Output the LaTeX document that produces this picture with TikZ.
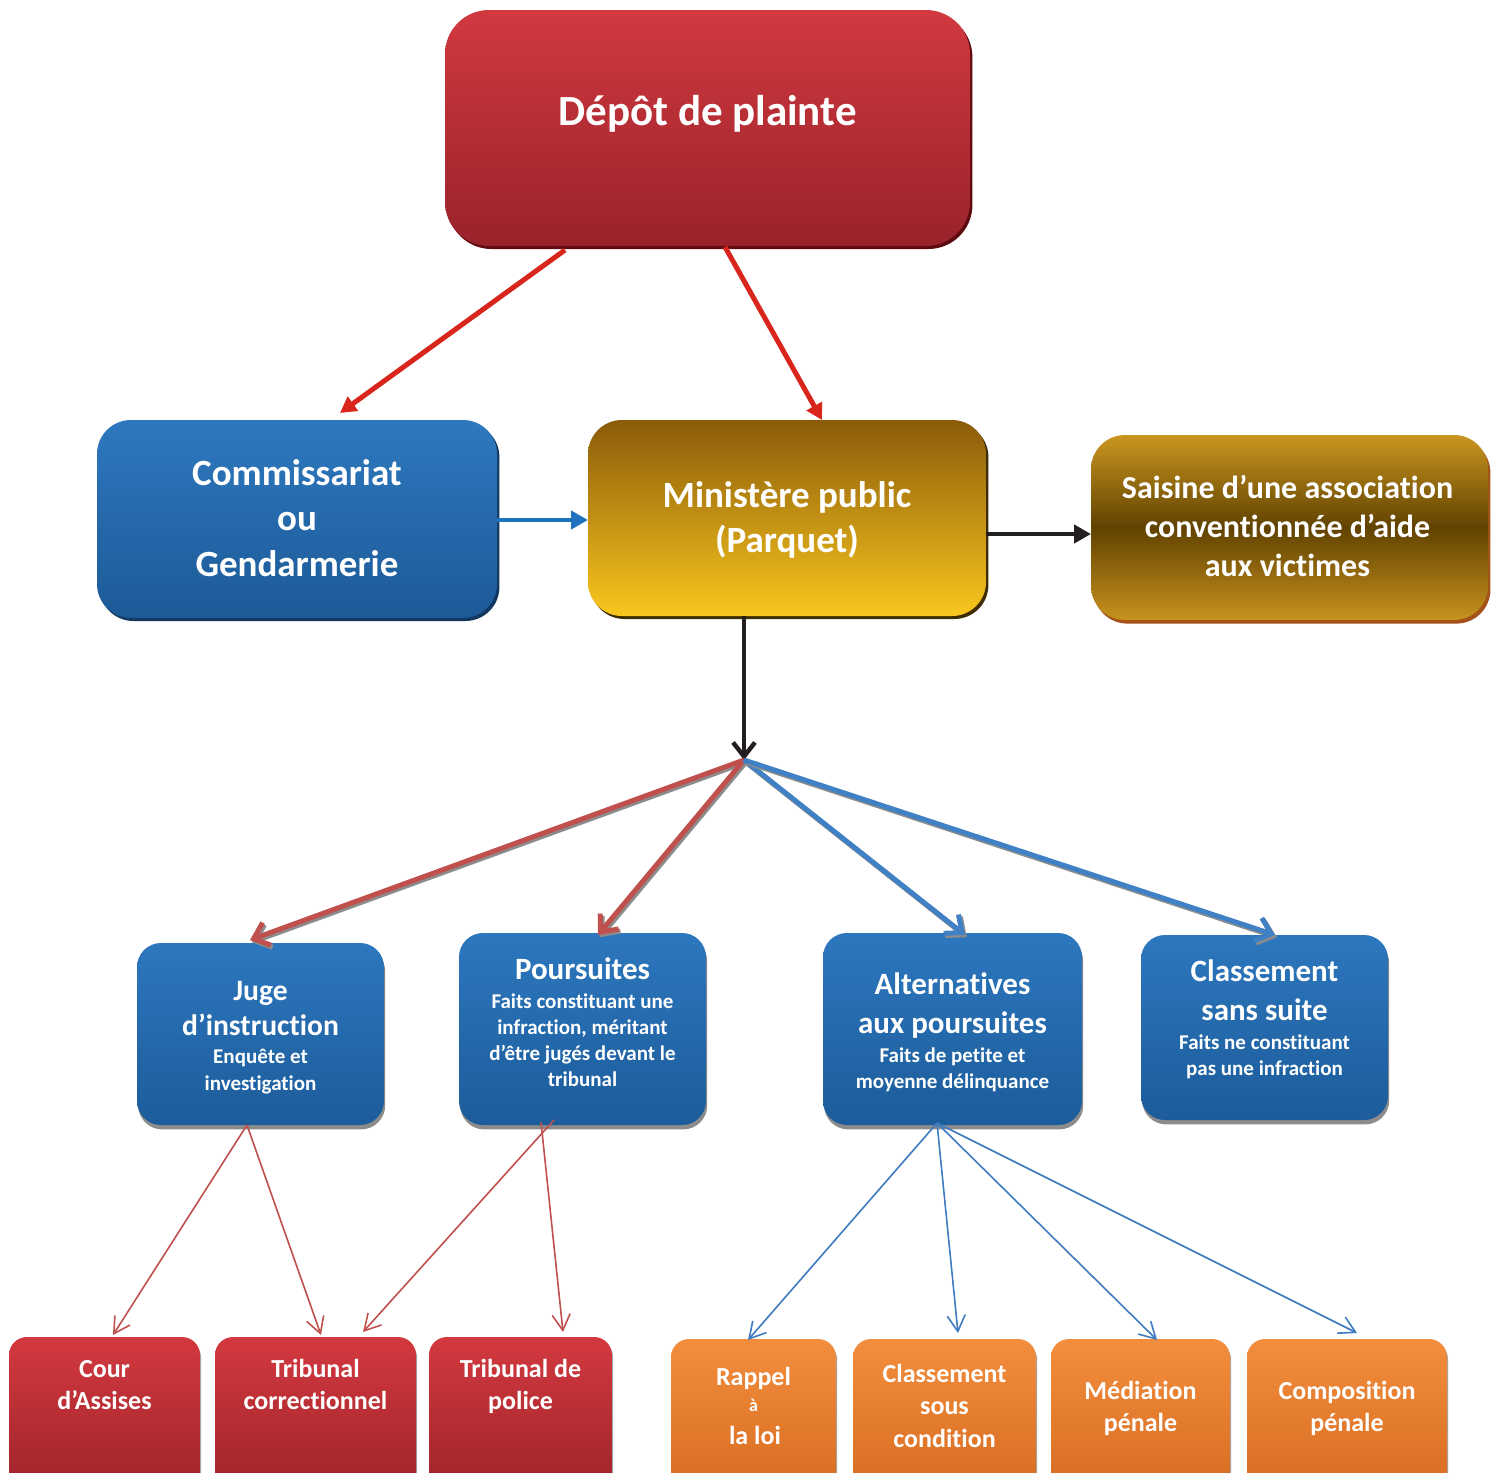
\documentclass[tikz,border=0pt]{standalone}
\usepackage{fontspec}
\setmainfont{Carlito}[Ligatures=NoCommon]
\usetikzlibrary{arrows.meta,shadows,calc}
\definecolor{depotT}{HTML}{D1393F}
\definecolor{depotB}{HTML}{99222A}
\definecolor{depotS}{HTML}{5E0A0E}
\definecolor{commT}{HTML}{2E78BF}
\definecolor{commB}{HTML}{1C5A97}
\definecolor{commS}{HTML}{12385F}
\definecolor{minT}{HTML}{8A5B09}
\definecolor{minB}{HTML}{FAC61E}
\definecolor{minS}{HTML}{3E2C05}
\definecolor{saisT}{HTML}{CA9620}
\definecolor{saisM}{HTML}{614200}
\definecolor{saisB}{HTML}{C8921E}
\definecolor{saisS}{HTML}{A4521A}
\definecolor{midT}{HTML}{2D77BE}
\definecolor{midB}{HTML}{1C5C9A}
\definecolor{rbT}{HTML}{D3393F}
\definecolor{rbB}{HTML}{9E242A}
\definecolor{orT}{HTML}{F38E3E}
\definecolor{orB}{HTML}{D76C20}
\definecolor{arrRed}{HTML}{D9261C}
\definecolor{hubRed}{HTML}{C0504D}
\definecolor{hubBlue}{HTML}{4080C4}
\definecolor{thinBlue}{HTML}{3E7BC1}
\definecolor{blackA}{HTML}{231F20}
\definecolor{commArr}{HTML}{1F72BB}
\begin{document}
\begin{tikzpicture}[x=0.5pt,y=-0.5pt,
  every node/.style={inner sep=0pt, outer sep=0pt},
  sz/.style 2 args={minimum width=#1*0.5pt, minimum height=#2*0.5pt},
  depotbox/.style={rectangle, rounded corners=22pt, top color=depotT, bottom color=depotB,
    drop shadow={shadow xshift=1.2pt, shadow yshift=-1.5pt, fill=depotS, opacity=1}},
  commbox/.style={rectangle, rounded corners=17pt, top color=commT, bottom color=commB,
    drop shadow={shadow xshift=1.2pt, shadow yshift=-1.5pt, fill=commS, opacity=1}},
  minbox/.style={rectangle, rounded corners=17pt, top color=minT, bottom color=minB,
    drop shadow={shadow xshift=1.2pt, shadow yshift=-1.5pt, fill=minS, opacity=1}},
  saisbox/.style={rectangle, rounded corners=17pt, top color=saisT, bottom color=saisB, middle color=saisM,
    drop shadow={shadow xshift=1.2pt, shadow yshift=-1.8pt, fill=saisS, opacity=1}},
  midbox/.style={rectangle, rounded corners=12pt, top color=midT, bottom color=midB,
    drop shadow={shadow xshift=0.6pt, shadow yshift=-2.2pt, fill=black!45, opacity=1}},
  redbox/.style={rectangle, rounded corners=9pt, top color=rbT, bottom color=rbB,
    drop shadow={shadow xshift=0.6pt, shadow yshift=-1.5pt, fill=black!35, opacity=1}},
  orbox/.style={rectangle, rounded corners=9pt, top color=orT, bottom color=orB,
    drop shadow={shadow xshift=0.6pt, shadow yshift=-1.5pt, fill=black!35, opacity=1}},
  txt/.style={text=white, align=center, anchor=base},
  fA/.style={font=\bfseries\fontsize{21.5pt}{26pt}\selectfont},
  fB/.style={font=\bfseries\fontsize{18.5pt}{22.75pt}\selectfont},
  fS/.style={font=\bfseries\fontsize{16pt}{19.5pt}\selectfont},
  fT/.style={font=\bfseries\fontsize{15.5pt}{#1}\selectfont},
  fs/.style={font=\bfseries\fontsize{10.5pt}{#1}\selectfont},
  fb/.style={font=\bfseries\fontsize{13pt}{16pt}\selectfont},
  thickred/.style={draw=arrRed, line width=2.5pt, -{Triangle[length=8pt,width=8.5pt]}},
  flatarr/.style={draw=#1, line width=2.4pt, -{Triangle[length=8.5pt,width=9pt]}},
  hubline/.style={draw=#1, line width=2.5pt, -{Straight Barb[length=7pt,width=12pt,line width=2.5pt]},
    preaction={draw=black!45, line width=2.5pt, transform canvas={xshift=0.9pt,yshift=-1.1pt}}},
  thinline/.style={draw=#1, line width=0.8pt, -{Straight Barb[length=8pt,width=9pt]}},
]
\fill[white] (0,0) rectangle (1498,1472);
\clip (0,0) rectangle (1498,1472);

% boxes
\node[depotbox, sz={525}{236}] (depot) at (707.5,128) {};
\node[commbox, sz={400}{198}] (comm) at (297,519) {};
\node[minbox, sz={398}{196}] (min) at (787,518) {};
\node[saisbox, sz={397}{185}] (sais) at (1289.5,527.5) {};
\node[midbox, sz={247}{182}] (juge) at (260.5,1034) {};
\node[midbox, sz={247}{192}] (pours) at (582.5,1029) {};
\node[midbox, sz={259}{192}] (alt) at (952.5,1029) {};
\node[midbox, sz={247}{185}] (css) at (1264.5,1027.5) {};
\node[redbox, sz={191}{153}] (cour) at (104.5,1413.5) {};
\node[redbox, sz={201}{153}] (trc) at (315.5,1413.5) {};
\node[redbox, sz={183}{153}] (trp) at (520.5,1413.5) {};
\node[orbox, sz={165}{151}] (rap) at (753.5,1414.5) {};
\node[orbox, sz={183}{151}] (csc) at (944.5,1414.5) {};
\node[orbox, sz={179}{151}] (med) at (1140.5,1414.5) {};
\node[orbox, sz={200}{151}] (comp) at (1347,1414.5) {};

% texts (anchor = baseline of the last line)
\node[txt, fA] (t-depot) at (707.5,125) {Dépôt de plainte};
\node[txt, fB] (t-comm) at (297,576) {Commissariat\\ou\\Gendarmerie};
\node[txt, font=\bfseries\fontsize{18.5pt}{22.5pt}\selectfont] (t-min) at (787,552) {Ministère public\\(Parquet)};
\node[txt, fS] (t-sais) at (1287.5,576) {Saisine d’une association\\conventionnée d’aide\\aux victimes};
\node[txt, font=\bfseries\fontsize{14.8pt}{17.5pt}\selectfont] (t-juge) at (260.5,1035) {Juge\\d’instruction};
\node[txt, fs=13.5pt] (s-juge) at (260.5,1090) {Enquête et\\investigation};
\node[txt, fT=19.5pt] (t-pours) at (582.5,979) {Poursuites};
\node[txt, fs=13pt] (s-pours) at (582.5,1086) {Faits constituant une\\infraction, méritant\\d’être jugés devant le\\tribunal};
\node[txt, fT=19.5pt] (t-alt) at (952.5,1033) {Alternatives\\aux poursuites};
\node[txt, fs=13pt] (s-alt) at (952.5,1088) {Faits de petite et\\moyenne délinquance};
\node[txt, fT=19.5pt] (t-css) at (1264.5,1020) {Classement\\sans suite};
\node[txt, fs=13pt] (s-css) at (1264.5,1075) {Faits ne constituant\\pas une infraction};
\node[txt, fb] (t-cour) at (104.5,1409) {Cour\\d’Assises};
\node[txt, fb] (t-trc) at (315.5,1409) {Tribunal\\correctionnel};
\node[txt, fb] (t-trp) at (520.5,1409) {Tribunal de\\police};
\node[txt, fb] (t-rap1) at (753.5,1385) {Rappel};
\node[txt, font=\bfseries\fontsize{9pt}{11pt}\selectfont] (t-rap2) at (753.5,1411) {à};
\node[txt, fb] (t-rap3) at (755,1444) {la loi};
\node[txt, font=\bfseries\fontsize{13pt}{16.25pt}\selectfont] (t-csc) at (944.5,1447) {Classement\\sous\\condition};
\node[txt, fb] (t-med) at (1140.5,1431) {Médiation\\pénale};
\node[txt, fb] (t-comp) at (1347,1431) {Composition\\pénale};

% connectors
\coordinate (hub) at (744,760);
\draw[thickred] ($(depot.south west)+(120,4)$) -- ($(comm.north west)+(243,-7)$);
\draw[thickred] ($(depot.south west)+(280,1)$) -- ($(min.north west)+(234,0)$);
\draw[flatarr=commArr] (comm.east |- 0,520) -- (min.west |- 0,520);
\draw[flatarr=blackA] (min.east |- 0,534) -- (sais.west |- 0,534);
\draw[draw=blackA, line width=2.2pt, -{Straight Barb[length=7pt,width=11pt,line width=2.2pt]}]
  ($(min.south west)+(156,0)$) -- (hub);
\draw[hubline=hubRed] (hub) -- ($(juge.north west)+(113,-3)$);
\draw[hubline=hubRed] (hub) -- ($(pours.north west)+(139,2)$);
\draw[hubline=hubBlue] (hub) -- ($(alt.north west)+(142,2)$);
\draw[hubline=hubBlue] (hub) -- ($(css.north west)+(134,0)$);
\draw[thinline=hubRed] ($(juge.south west)+(110,0)$) -- ($(cour.north west)+(104,-2)$);
\draw[thinline=hubRed] ($(juge.south west)+(110,0)$) -- ($(trc.north west)+(106,-2)$);
\draw[thinline=hubRed] ($(pours.south west)+(95,-5)$) -- ($(trc.north west)+(148,-5)$);
\draw[thinline=hubRed] ($(pours.south west)+(82,-3)$) -- ($(trp.north west)+(134,-5)$);
\draw[thinline=thinBlue] ($(alt.south west)+(114,-2)$) -- ($(rap.north west)+(77,1)$);
\draw[thinline=thinBlue] ($(alt.south west)+(114,-2)$) -- ($(csc.north west)+(105,-6)$);
\draw[thinline=thinBlue] ($(alt.south west)+(114,-2)$) -- ($(med.north west)+(106,1)$);
\draw[thinline=thinBlue] ($(alt.south west)+(114,-2)$) -- ($(comp.north west)+(110,-6)$);
\end{tikzpicture}
\end{document}
